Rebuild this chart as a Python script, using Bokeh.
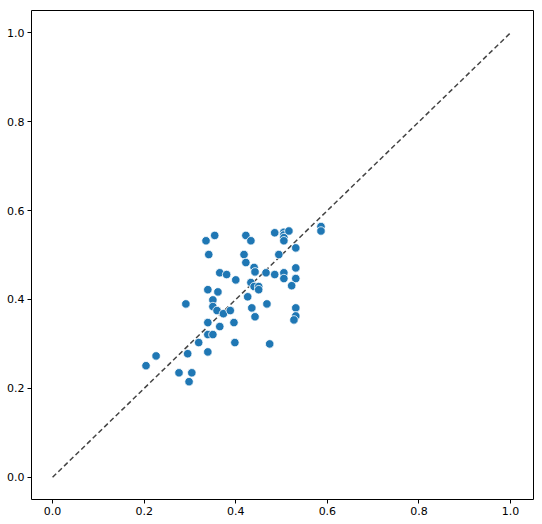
from bokeh.plotting import figure
from bokeh.models import Range1d, FixedTicker, NumeralTickFormatter
from bokeh.embed import file_html
from bokeh.resources import INLINE

x_vals = [0.354, 0.335, 0.341, 0.365, 0.380, 0.339, 0.361, 0.350, 0.291, 0.350,
          0.359, 0.373, 0.388, 0.422, 0.433, 0.485, 0.505, 0.505, 0.505, 0.505,
          0.516, 0.586, 0.586, 0.531, 0.418, 0.494, 0.422, 0.440, 0.442, 0.466,
          0.485, 0.505, 0.505, 0.531, 0.531, 0.400, 0.433, 0.440, 0.450, 0.450,
          0.522, 0.426, 0.468, 0.435, 0.531, 0.442, 0.531, 0.339, 0.365, 0.339,
          0.350, 0.319, 0.295, 0.339, 0.226, 0.204, 0.276, 0.304, 0.298, 0.527,
          0.396, 0.398, 0.474]
y_vals = [0.544, 0.532, 0.501, 0.460, 0.456, 0.422, 0.417, 0.399, 0.390, 0.384,
          0.375, 0.368, 0.375, 0.544, 0.532, 0.550, 0.551, 0.545, 0.539, 0.532,
          0.554, 0.564, 0.554, 0.516, 0.501, 0.501, 0.483, 0.472, 0.462, 0.460,
          0.456, 0.460, 0.447, 0.471, 0.447, 0.444, 0.438, 0.429, 0.429, 0.422,
          0.431, 0.406, 0.390, 0.381, 0.381, 0.361, 0.363, 0.348, 0.339, 0.321,
          0.321, 0.303, 0.278, 0.282, 0.273, 0.251, 0.235, 0.235, 0.215, 0.354,
          0.348, 0.303, 0.300]
diag = [0.0, 1.0]
ticks = [0.0, 0.2, 0.4, 0.6, 0.8, 1.0]

p = figure(frame_width=502, frame_height=489, output_backend="svg", toolbar_location=None,
           x_range=Range1d(-0.046, 1.05), y_range=Range1d(-0.05, 1.05),
           min_border_left=31, min_border_right=2, min_border_top=10, min_border_bottom=16)
p.background_fill_color = "white"
p.border_fill_color = "white"
p.outline_line_color = "black"
p.outline_line_width = 1
p.xgrid.visible = False
p.ygrid.visible = False

for ax in (p.xaxis[0], p.yaxis[0]):
    ax.ticker = FixedTicker(ticks=ticks)
    ax.formatter = NumeralTickFormatter(format="0.0")
    ax.axis_line_color = None
    ax.major_tick_in = 0
    ax.major_tick_out = 4
    ax.major_tick_line_color = "black"
    ax.minor_tick_line_color = None
    ax.major_label_text_font = "DejaVu Sans"
    ax.major_label_text_font_size = "11px"
    ax.major_label_text_color = "black"
    ax.major_label_standoff = 3

p.line(diag, diag, line_color="#444444", line_width=1.5, line_dash="5 3")
p.scatter(x_vals, y_vals, size=8.5, fill_color="#1f77b4", line_color="white", line_width=0.8)

open("out.html", "w").write(file_html(p, INLINE))
